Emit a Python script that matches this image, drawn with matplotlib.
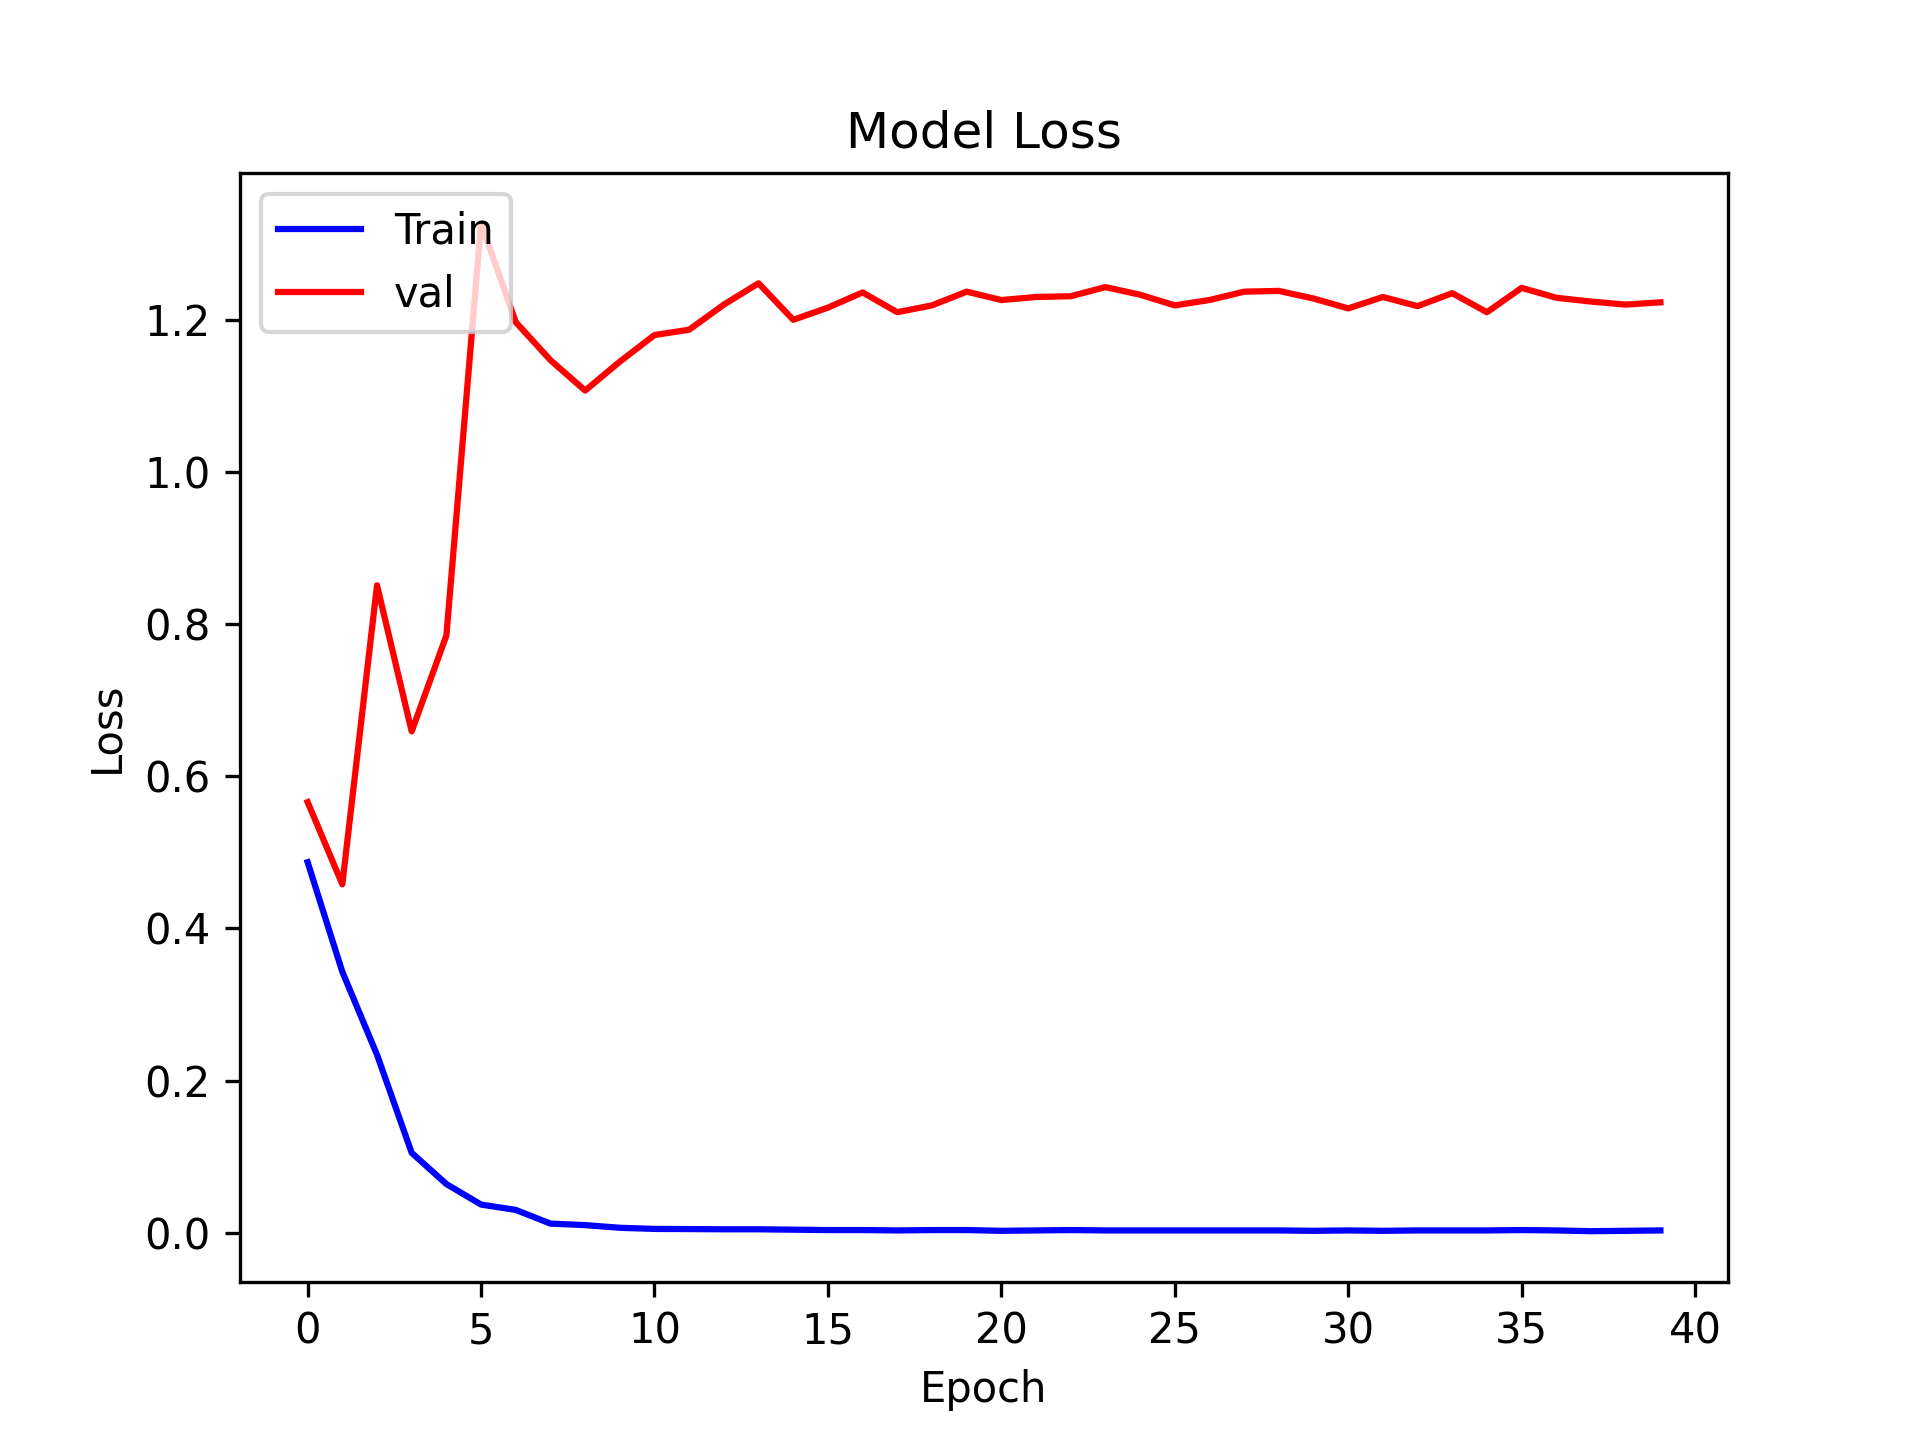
import matplotlib
matplotlib.use("Agg")
import matplotlib.pyplot as plt

# loss history
train_loss = [0.487, 0.343, 0.234, 0.105, 0.064, 0.037, 0.030, 0.012, 0.010, 0.0065,
              0.005, 0.0048, 0.0045, 0.0045, 0.004, 0.0035, 0.0035, 0.003, 0.0035, 0.0035,
              0.0025, 0.003, 0.0035, 0.003, 0.003, 0.003, 0.003, 0.003, 0.003, 0.0025,
              0.003, 0.0025, 0.003, 0.003, 0.003, 0.0035, 0.003, 0.002, 0.0025, 0.003]
val_loss = [0.566, 0.458, 0.851, 0.659, 0.785, 1.327, 1.197, 1.147, 1.107, 1.145,
            1.180, 1.187, 1.220, 1.248, 1.200, 1.216, 1.236, 1.210, 1.219, 1.237,
            1.226, 1.230, 1.231, 1.243, 1.233, 1.219, 1.226, 1.237, 1.238, 1.228,
            1.215, 1.230, 1.218, 1.235, 1.210, 1.242, 1.229, 1.224, 1.220, 1.223]

fig = plt.figure(figsize=(6.4, 4.8), dpi=300)
plt.plot(train_loss, color='blue', label='Train')
plt.plot(val_loss, color='red', label='val')
plt.title('Model Loss')
plt.ylabel('Loss')
plt.xlabel('Epoch')
plt.legend(loc='upper left')
plt.savefig('out.png', dpi=300)
